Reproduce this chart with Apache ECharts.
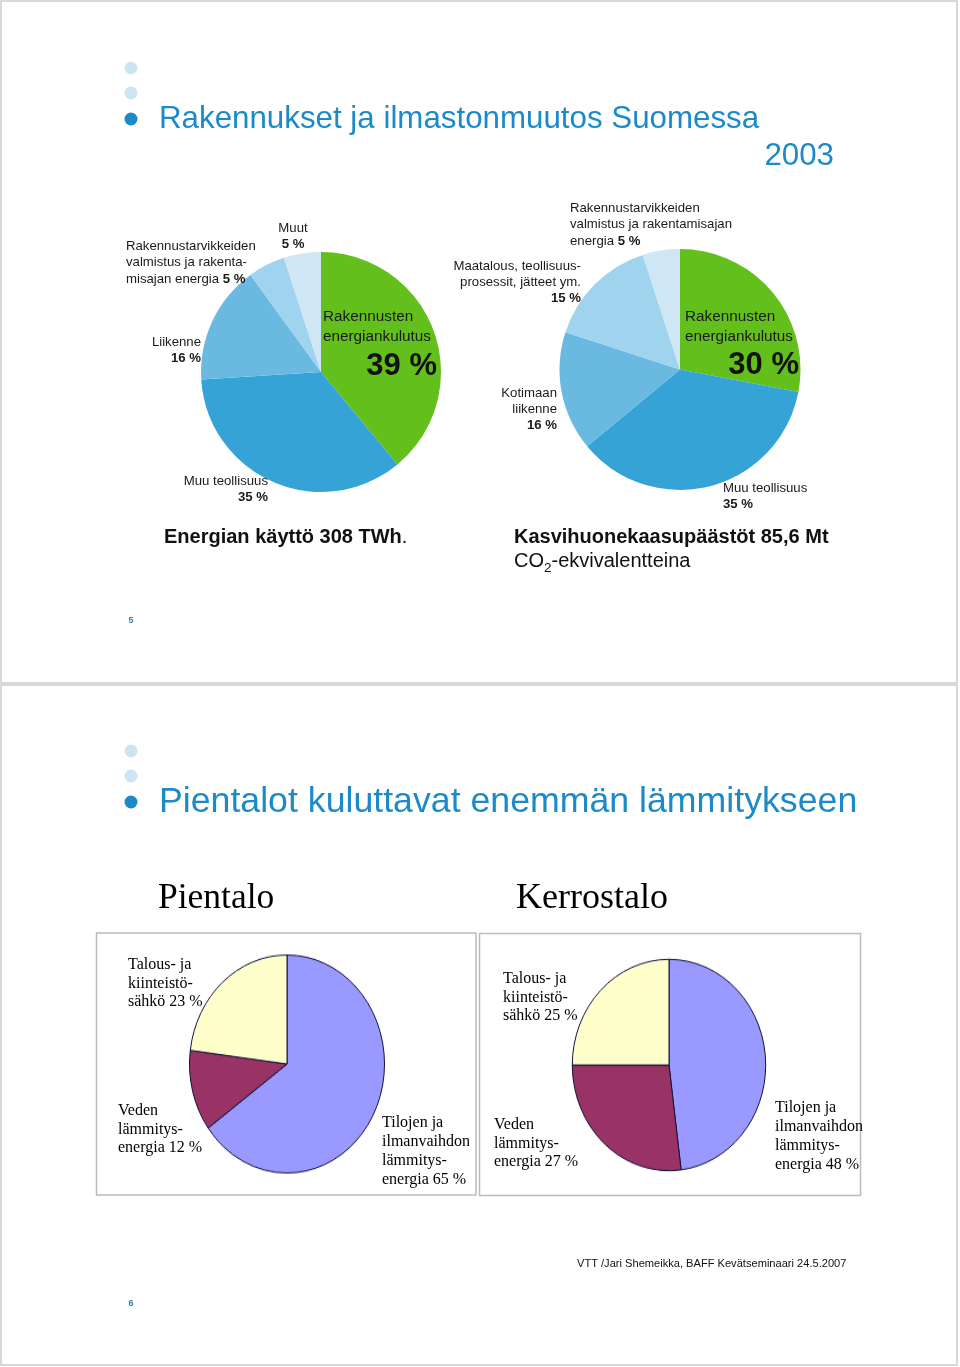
<!DOCTYPE html>
<html><head><meta charset="utf-8">
<script src="https://cdn.jsdelivr.net/npm/echarts@6/dist/echarts.min.js"></script>
<style>
html,body{margin:0;padding:0;background:#fff}
#main{position:absolute;left:0;top:0;width:960px;height:1367px}
.ell{position:absolute;width:220px;height:220px;pointer-events:none;transform-origin:50% 50%}
</style></head><body>
<div id="main"></div>
<div id="pie3" class="ell"></div>
<div id="pie4" class="ell"></div>
<script>
// ---------- DATA ----------
const energyCats = ['Rakennusten energiankulutus', 'Muu teollisuus', 'Liikenne', 'Rakennustarvikkeiden valmistus ja rakentamisajan energia', 'Muut'];
const energyValues = [39, 35, 16, 5, 5];
const ghgCats = ['Rakennusten energiankulutus', 'Muu teollisuus', 'Kotimaan liikenne', 'Maatalous, teollisuusprosessit, jätteet ym.', 'Rakennustarvikkeiden valmistus ja rakentamisajan energia'];
const ghgValues = [28, 36, 16, 15, 5];          // slice sizes as drawn
const ghgLabelPct = [30, 35, 16, 15, 5];        // percentages printed on the slide
const heatCats = ['Tilojen ja ilmanvaihdon lämmitysenergia', 'Veden lämmitysenergia', 'Talous- ja kiinteistösähkö'];
const pientaloValues = [65, 12, 23];
const kerrostaloValues = [48, 27, 25];

// ---------- STYLE ----------
const SANS = '"Liberation Sans", Arial, Helvetica, sans-serif';
const SERIF = '"Liberation Serif", "Times New Roman", serif';
const BLUE = '#1c8ac9';
const topColors1 = ['#62bf1c', '#36a3d7', '#6ab9e1', '#a0d3ee', '#cfe7f4'];
const topColors2 = ['#62bf1c', '#36a3d7', '#6ab9e1', '#a0d3ee', '#cfe7f4'];
const heatColors = ['#9999ff', '#993366', '#ffffcc'];

const measureCtx = document.createElement('canvas').getContext('2d');
function textW(str, font) { measureCtx.font = font; return measureCtx.measureText(str).width; }

const gfx = [];
// text line with **bold** markers
function line(x, y, align, str, size, family, color, weight) {
  const parts = str.split('**');
  let rich = '';
  parts.forEach((p, i) => { if (p.length) rich += '{' + (i % 2 ? 'b' : 'n') + '|' + p + '}'; });
  gfx.push({
    type: 'text', x: x, y: y, silent: true, z: 100,
    style: {
      text: rich, textAlign: align, textVerticalAlign: 'middle',
      rich: {
        n: { fontSize: size, fontFamily: family, fill: color, fontWeight: weight || 'normal' },
        b: { fontSize: size, fontFamily: family, fill: color, fontWeight: 'bold' }
      }
    }
  });
}
function block(x, y, align, lh, lines, size, family, color) {
  lines.forEach((l, i) => line(x, y + i * lh, align, l, size, family, color));
}
const pct = v => v + ' %';

// slide frames
gfx.push({ type: 'rect', silent: true, z: 100, shape: { x: 1, y: 1, width: 956, height: 682 }, style: { fill: 'none', stroke: '#cccccc', lineWidth: 1.5 } });
gfx.push({ type: 'rect', silent: true, z: 100, shape: { x: 1, y: 685, width: 956, height: 680 }, style: { fill: 'none', stroke: '#cccccc', lineWidth: 1.5 } });

// bullets
[[68, '#cde4f2'], [93, '#cde4f2'], [119, BLUE], [751, '#cde4f2'], [776, '#cde4f2'], [802, BLUE]].forEach(b => {
  gfx.push({ type: 'circle', silent: true, z: 100, shape: { cx: 131, cy: b[0], r: 6.5 }, style: { fill: b[1] } });
});

// slide 1 texts
line(159, 119, 'left', 'Rakennukset ja ilmastonmuutos Suomessa', 31.3, SANS, BLUE);
line(834, 156, 'right', '2003', 31.3, SANS, BLUE);

const LBL = 13.2;
// top-left pie labels
block(293, 228, 'center', 16, ['Muut', '**' + pct(energyValues[4]) + '**'], LBL, SANS, '#1a1a1a');
block(126, 246, 'left', 16.5, ['Rakennustarvikkeiden', 'valmistus ja rakenta-', 'misajan energia **' + pct(energyValues[3]) + '**'], LBL, SANS, '#1a1a1a');
block(201, 342, 'right', 16.5, ['Liikenne', '**' + pct(energyValues[2]) + '**'], LBL, SANS, '#1a1a1a');
block(268, 481, 'right', 16.5, ['Muu teollisuus', '**' + pct(energyValues[1]) + '**'], LBL, SANS, '#1a1a1a');
block(323, 317, 'left', 19.5, ['Rakennusten', 'energiankulutus'], 15.3, SANS, '#1a1a1a');
line(437, 366, 'right', '**' + pct(energyValues[0]) + '**', 31, SANS, '#111');

// top-right pie labels
block(570, 208, 'left', 16.5, ['Rakennustarvikkeiden', 'valmistus ja rakentamisajan', 'energia **' + pct(ghgLabelPct[4]) + '**'], LBL, SANS, '#1a1a1a');
block(581, 266, 'right', 16, ['Maatalous, teollisuus-', 'prosessit, jätteet ym.', '**' + pct(ghgLabelPct[3]) + '**'], LBL, SANS, '#1a1a1a');
block(557, 393, 'right', 16, ['Kotimaan', 'liikenne', '**' + pct(ghgLabelPct[2]) + '**'], LBL, SANS, '#1a1a1a');
block(723, 488, 'left', 16.5, ['Muu teollisuus', '**' + pct(ghgLabelPct[1]) + '**'], LBL, SANS, '#1a1a1a');
block(685, 317, 'left', 19.5, ['Rakennusten', 'energiankulutus'], 15.3, SANS, '#1a1a1a');
line(799, 365, 'right', '**' + pct(ghgLabelPct[0]) + '**', 31, SANS, '#111');

// captions
line(164, 537, 'left', '**Energian käyttö 308 TWh**.', 20, SANS, '#111');
line(514, 537, 'left', '**Kasvihuonekaasupäästöt 85,6 Mt**', 20, SANS, '#111');
const coFont = '20px ' + SANS;
line(514, 561, 'left', 'CO', 20, SANS, '#111');
const coW = textW('CO', coFont);
line(514 + coW, 568, 'left', '2', 13.5, SANS, '#111');
line(514 + coW + textW('2', '13.5px ' + SANS), 561, 'left', '-ekvivalentteina', 20, SANS, '#111');
line(131, 621, 'center', '**5**', 9, SANS, '#2a7fb8');

// slide 2 texts
line(159, 802, 'left', 'Pientalot kuluttavat enemmän lämmitykseen', 35.7, SANS, BLUE);
line(158, 899, 'left', 'Pientalo', 35.5, SERIF, '#000');
line(516, 899, 'left', 'Kerrostalo', 36, SERIF, '#000');

// chart boxes
gfx.push({ type: 'rect', silent: true, z: 100, shape: { x: 96.5, y: 933, width: 379.5, height: 262 }, style: { fill: 'none', stroke: '#bcbcbc', lineWidth: 1.5 } });
gfx.push({ type: 'rect', silent: true, z: 100, shape: { x: 479.5, y: 933.5, width: 381, height: 262 }, style: { fill: 'none', stroke: '#bcbcbc', lineWidth: 1.5 } });

// bottom pie labels
block(128, 965, 'left', 18.3, ['Talous- ja', 'kiinteistö-', 'sähkö ' + pct(pientaloValues[2])], 16, SERIF, '#000');
block(118, 1111, 'left', 18.5, ['Veden', 'lämmitys-', 'energia ' + pct(pientaloValues[1])], 16, SERIF, '#000');
block(382, 1123, 'left', 19, ['Tilojen ja', 'ilmanvaihdon', 'lämmitys-', 'energia ' + pct(pientaloValues[0])], 16, SERIF, '#000');
block(503, 979, 'left', 18.5, ['Talous- ja', 'kiinteistö-', 'sähkö ' + pct(kerrostaloValues[2])], 16, SERIF, '#000');
block(494, 1125, 'left', 18.5, ['Veden', 'lämmitys-', 'energia ' + pct(kerrostaloValues[1])], 16, SERIF, '#000');
block(775, 1108, 'left', 19, ['Tilojen ja', 'ilmanvaihdon', 'lämmitys-', 'energia ' + pct(kerrostaloValues[0])], 16, SERIF, '#000');

line(577, 1264, 'left', 'VTT /Jari Shemeikka, BAFF Kevätseminaari 24.5.2007', 11.1, SANS, '#111');
line(131, 1304, 'center', '**6**', 9, SANS, '#2a7fb8');

// ---------- MAIN CHART ----------
function pieSeries(cats, vals, colors, center, radius, border) {
  return {
    type: 'pie', center: center, radius: radius, startAngle: 90, clockwise: true,
    silent: true, label: { show: false }, labelLine: { show: false },
    emphasis: { disabled: true }, animation: false, z: 2,
    itemStyle: border ? { borderColor: '#10103a', borderWidth: 1 } : { borderWidth: 0 },
    data: cats.map((c, i) => ({ name: c, value: vals[i], itemStyle: { color: colors[i] } }))
  };
}

const main = echarts.init(document.getElementById('main'), null, { renderer: 'canvas' });
main.setOption({
  animation: false,
  series: [
    pieSeries(energyCats, energyValues, topColors1, [321, 372], 120, false),
    pieSeries(ghgCats, ghgValues, topColors2, [680, 369.5], 120.5, false)
  ],
  graphic: { elements: gfx }
});

// ---------- ELLIPTICAL PIES (stretched vertically as on the slide) ----------
function ellPie(id, vals, cx, cy, rx, ry) {
  const el = document.getElementById(id);
  el.style.left = (cx - 110) + 'px';
  el.style.top = (cy - 110) + 'px';
  el.style.transform = 'scaleY(' + (ry / rx) + ')';
  const c = echarts.init(el);
  c.setOption({ animation: false, series: [pieSeries(heatCats, vals, heatColors, ['50%', '50%'], rx, true)] });
}
ellPie('pie3', pientaloValues, 286.7, 1063.5, 97.5, 109);
ellPie('pie4', kerrostaloValues, 669.3, 1065, 96.7, 105.7);
</script>
</body></html>
